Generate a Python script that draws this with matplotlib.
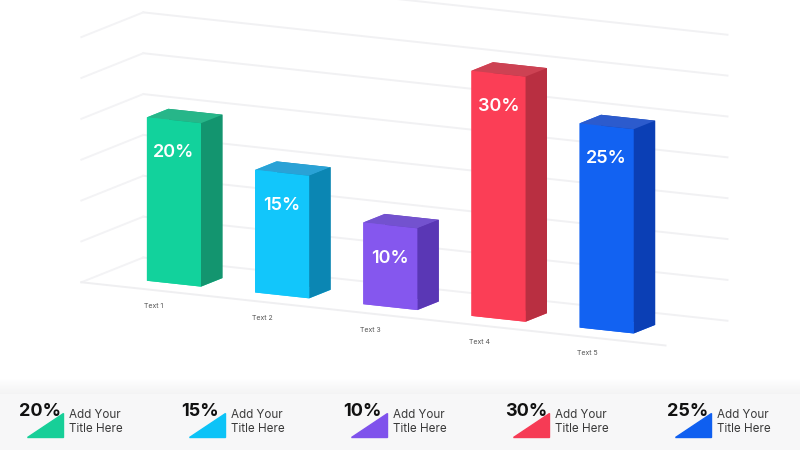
import matplotlib
matplotlib.use("Agg")
import matplotlib.pyplot as plt
import numpy as np
from matplotlib.patches import Polygon, Rectangle

plt.rcParams["font.family"] = ["Inter", "DejaVu Sans"]

# data
categories = ["Text 1", "Text 2", "Text 3", "Text 4", "Text 5"]
values = [20, 15, 10, 30, 25]
legend_titles = ["Add Your\nTitle Here"] * 5

front_colors = ["#12d29c", "#12c6fb", "#8557ee", "#fb3e56", "#1262f2"]
side_colors = ["#13956f", "#0b86b3", "#5a37b5", "#b92f41", "#0b3fb5"]
top_colors = ["#27b689", "#2aa2d6", "#7352cf", "#cd4253", "#2c5bcd"]
tri_colors = ["#17cf98", "#0cc3f7", "#7f52ec", "#f63b55", "#0f5ff0"]

BAR_W = 0.5
BAR_D = 0.38
GRID_LEVELS = np.arange(0, 40, 5)

fig = plt.figure(figsize=(8, 4.5), dpi=100)
fig.patch.set_facecolor("white")

# 3D bar area (artists are unclipped, so the box may spill past the axes)
ax = fig.add_axes([0.035, 0.276, 0.93, 0.724], projection="3d")
ax.set_proj_type("ortho")
ax.view_init(elev=12, azim=-62.5)
ax.set_xticks([])
ax.set_yticks([])
ax.set_zticks([])
for axis in (ax.xaxis, ax.yaxis, ax.zaxis):
    axis.label.set_visible(False)
    axis.offsetText.set_visible(False)
ax.set_axis_off()
ax.set_facecolor("none")

xs = np.arange(len(values))
x_lo, x_hi = -0.7, 4.7
y_lo, y_hi = -0.3, 0.8
ax.set_xlim(x_lo, x_hi)
ax.set_ylim(y_lo, y_hi)
ax.set_zlim(0, 35)
ax.set_box_aspect((x_hi - x_lo, y_hi - y_lo, 35 * 0.0685), zoom=2.184)

# faint grid on the back and left walls
grid = []
for lv in GRID_LEVELS:
    grid += ax.plot([x_lo, x_hi], [y_hi, y_hi], [lv, lv], color="#f1f1f3", lw=1.4, zorder=0)
    grid += ax.plot([x_lo, x_lo], [y_lo, y_hi], [lv, lv], color="#f3f3f5", lw=1.4, zorder=0)
grid += ax.plot([x_lo, x_hi], [y_lo, y_lo], [0, 0], color="#efeff1", lw=1.4, zorder=0)
for ln in grid:
    ln.set_clip_on(False)

for i, (x, v) in enumerate(zip(xs, values)):
    # face order: bottom, top, front, back, left, right
    cols = [front_colors[i], top_colors[i], front_colors[i], side_colors[i],
            front_colors[i], side_colors[i]]
    bar = ax.bar3d(x - BAR_W / 2, 0, 0, BAR_W, BAR_D, v, color=cols, shade=False,
                   edgecolor="none", zorder=5 + i)
    bar.set_clip_on(False)
    t = ax.text(x, 0, v - 4, f"{v}%", color="white", fontsize=13,
                fontweight="semibold", ha="center", va="center", zorder=20)
    t.set_clip_on(False)
    t = ax.text(x - BAR_W / 2, -0.05, -3, categories[i], color="#555555",
                fontsize=5, ha="left", va="center", zorder=20)
    t.set_clip_on(False)

# bottom band with legend
bx = fig.add_axes([0, 0, 1, 0.16])
bx.set_xlim(0, 800)
bx.set_ylim(450, 378)
bx.set_xticks([])
bx.set_yticks([])
bx.set_axis_off()
shade = np.linspace(1.0, 0.955, 16)
band = np.dstack([shade, shade, shade * 1.003]).clip(0, 1).reshape(-1, 1, 3)
bx.imshow(band, extent=[0, 800, 394, 378], aspect="auto", zorder=0)
bx.add_patch(Rectangle((0, 394), 800, 60, color="#f7f7f8", zorder=0))

for i, v in enumerate(values):
    x0 = 20 + 162 * i
    bx.add_patch(Polygon([[x0 + 7, 437], [x0 + 43, 437], [x0 + 43, 413]],
                         closed=True, color=tri_colors[i], zorder=1))
    bx.text(x0 - 1, 412, f"{v}%", fontsize=13, fontweight="bold", color="#111111",
            ha="left", va="center", zorder=2)
    line1, line2 = legend_titles[i].split("\n")
    bx.text(x0 + 49, 415, line1, fontsize=8.4, color="#3a3a3a",
            ha="left", va="center", zorder=2)
    bx.text(x0 + 49, 429, line2, fontsize=8.4, color="#3a3a3a",
            ha="left", va="center", zorder=2)

fig.savefig("out.png", dpi=100)
